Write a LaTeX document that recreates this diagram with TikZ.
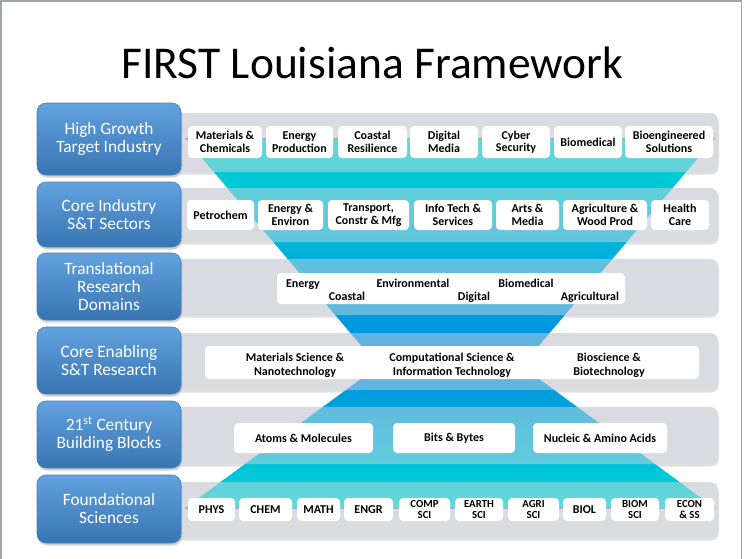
\documentclass[tikz,border=0pt]{standalone}
\usepackage{fontspec}
\setmainfont{Carlito}
\usetikzlibrary{shadows}
\definecolor{bandgray}{RGB}{217,219,225}
\definecolor{framegray}{RGB}{160,164,170}
\definecolor{edgeblue}{RGB}{120,140,160}
\definecolor{boxtop}{RGB}{98,162,222}
\definecolor{boxbot}{RGB}{56,116,178}
\definecolor{boxedge}{RGB}{70,128,188}
\definecolor{hgA}{RGB}{0,214,210}
\definecolor{hgB}{RGB}{0,190,228}
\definecolor{hgC}{RGB}{0,140,224}
\definecolor{hgD}{RGB}{0,186,226}
\definecolor{hgE}{RGB}{0,216,212}
\tikzset{
  lbox/.style={rounded corners=9pt, top color=boxtop, bottom color=boxbot,
    draw=boxedge, line width=0.6pt, text=white, align=center,
    font=\fontsize{17.3}{18}\selectfont, minimum width=144pt, inner sep=0pt,
    drop shadow={opacity=0.35, shadow xshift=1pt, shadow yshift=-2.5pt}},
  band/.style={fill=bandgray, rounded corners=8pt},
  bandshadow/.style={fill=black, opacity=0.12, rounded corners=8pt},
  bandveil/.style={fill=bandgray, opacity=0.45, rounded corners=8pt},
  wbox/.style={fill=white, rounded corners=4pt, align=center, inner sep=0pt,
    font=\bfseries\fontsize{12}{12.5}\selectfont},
  sbox/.style={wbox, font=\bfseries\fontsize{10.8}{10.3}\selectfont},
  wtext/.style={inner sep=0pt, align=center, font=\bfseries\fontsize{12}{14}\selectfont},
  edge/.style={draw=edgeblue, line width=1pt},
}
\begin{document}
\begin{tikzpicture}[x=1pt,y=-1pt]
\useasboundingbox (0,0) rectangle (745,558);
\fill[white] (0,0) rectangle (745,558);
% frame
\draw[framegray, line width=1.5pt] (0.75,600) -- (0.75,0.75) -- (741.5,0.75) -- (741.5,600);
% title
\node[anchor=base, inner sep=0pt, font=\fontsize{45.5}{50}\selectfont] (title) at (372.5,78) {FIRST Louisiana Framework};
% band shadows and bands
\foreach \ya/\yb in {113/172,188/242,259/315,333/390,407/464,482/538}{
  \fill[bandshadow] (171,\ya+2.5) rectangle (719,\yb+2.5);
  \fill[band] (170,\ya) rectangle (718,\yb);
}
% hourglass
\shade[top color=hgA, middle color=hgB, bottom color=hgC] (185,138) -- (715,138) -- (525,362) -- (375,362) -- cycle;
\shade[top color=hgC, middle color=hgD, bottom color=hgE] (384,362) -- (516,362) -- (715,508) -- (185,508) -- cycle;
\draw[edge] (185,138) -- (715,138);
\draw[edge] (185,508) -- (715,508);
% veil of the bands over the hourglass
\foreach \ya/\yb in {113/172,188/242,259/315,333/390,407/464,482/538}{
  \fill[bandveil] (170,\ya) rectangle (718,\yb);
}
% left boxes
\node[lbox, minimum height=72pt] (L1) at (109,139) {High Growth\\Target Industry};
\node[lbox, minimum height=65pt] (L2) at (109,214.5) {Core Industry\\S\&T Sectors};
\node[lbox, minimum height=67pt] (L3) at (109,286.5) {Translational\\Research\\Domains};
\node[lbox, minimum height=67pt] (L4) at (109,360.5) {Core Enabling\\S\&T Research};
\node[lbox, minimum height=67pt] (L5) at (109,434.5) {21\textsuperscript{st} Century\\Building Blocks};
\node[lbox, minimum height=68pt] (L6) at (109,509) {Foundational\\Sciences};
% row 1
\node[wbox, minimum width=74pt, minimum height=32pt] (r1a) at (225,142) {Materials \&\\Chemicals};
\node[wbox, minimum width=67pt, minimum height=32pt] (r1b) at (299.5,142) {Energy\\Production};
\node[wbox, minimum width=69pt, minimum height=32pt] (r1c) at (372.5,142) {Coastal\\Resilience};
\node[wbox, minimum width=68pt, minimum height=32pt] (r1d) at (444,142) {Digital\\Media};
\node[wbox, minimum width=68pt, minimum height=32pt] (r1e) at (516,142) {Cyber\\Security};
\node[wbox, minimum width=68pt, minimum height=32pt] (r1f) at (588,142) {Biomedical};
\node[wbox, minimum width=88pt, minimum height=32pt] (r1g) at (669,142) {Bioengineered\\Solutions};
% row 2
\node[wbox, minimum width=67pt, minimum height=30pt] (r2a) at (220.5,215) {Petrochem};
\node[wbox, minimum width=65pt, minimum height=30pt] (r2b) at (290.5,215) {Energy \&\\Environ};
\node[wbox, minimum width=81pt, minimum height=30pt] (r2c) at (368.5,215) {Transport,\\Constr \& Mfg};
\node[wbox, minimum width=78pt, minimum height=30pt] (r2d) at (453,215) {Info Tech \&\\Services};
\node[wbox, minimum width=63pt, minimum height=30pt] (r2e) at (527.5,215) {Arts \&\\Media};
\node[wbox, minimum width=84pt, minimum height=30pt] (r2f) at (605,215) {Agriculture \&\\Wood Prod};
\node[wbox, minimum width=58pt, minimum height=30pt] (r2g) at (680,215) {Health\\Care};
% row 3
\node[wbox, minimum width=348pt, minimum height=31pt] (r3) at (451,288.5) {};
\node[wtext, anchor=base] (r3a) at (303,287.5) {Energy};
\node[wtext, anchor=base] (r3b) at (347,300) {Coastal};
\node[wtext, anchor=base] (r3c) at (413,287.5) {Environmental};
\node[wtext, anchor=base] (r3d) at (474,300) {Digital};
\node[wtext, anchor=base] (r3e) at (526,287.5) {Biomedical};
\node[wtext, anchor=base] (r3f) at (590,300) {Agricultural};
% row 4
\node[wbox, minimum width=494pt, minimum height=33pt] (r4) at (452,362.5) {};
\node[wtext] (r4a) at (295,365) {Materials Science \&\\Nanotechnology};
\node[wtext] (r4b) at (452,365) {Computational Science \&\\Information Technology};
\node[wtext] (r4c) at (609,365) {Bioscience \&\\Biotechnology};
% row 5
\node[wbox, minimum width=139pt, minimum height=30pt] (r5a) at (303.5,438) {Atoms \& Molecules};
\node[wbox, minimum width=122pt, minimum height=30pt] (r5b) at (454,438) {Bits \& Bytes};
\node[wbox, minimum width=134pt, minimum height=30pt] (r5c) at (600,438) {Nucleic \& Amino Acids};
% row 6
\node[wbox, minimum width=47pt, minimum height=23pt] (r6a) at (211.5,509.5) {PHYS};
\node[wbox, minimum width=53pt, minimum height=23pt] (r6b) at (265.5,509.5) {CHEM};
\node[wbox, minimum width=43pt, minimum height=23pt] (r6c) at (318.5,509.5) {MATH};
\node[wbox, minimum width=49pt, minimum height=23pt] (r6d) at (368.5,509.5) {ENGR};
\node[sbox, minimum width=51pt, minimum height=23pt] (r6e) at (424.5,509.5) {COMP\\SCI};
\node[sbox, minimum width=48pt, minimum height=23pt] (r6f) at (479,509.5) {EARTH\\SCI};
\node[sbox, minimum width=51pt, minimum height=23pt] (r6g) at (533.5,509.5) {AGRI\\SCI};
\node[wbox, minimum width=43pt, minimum height=23pt] (r6h) at (584.5,509.5) {BIOL};
\node[sbox, minimum width=48pt, minimum height=23pt] (r6i) at (635,509.5) {BIOM\\SCI};
\node[sbox, minimum width=49pt, minimum height=23pt] (r6j) at (689.5,509.5) {ECON\\\& SS};
\end{tikzpicture}
\end{document}
